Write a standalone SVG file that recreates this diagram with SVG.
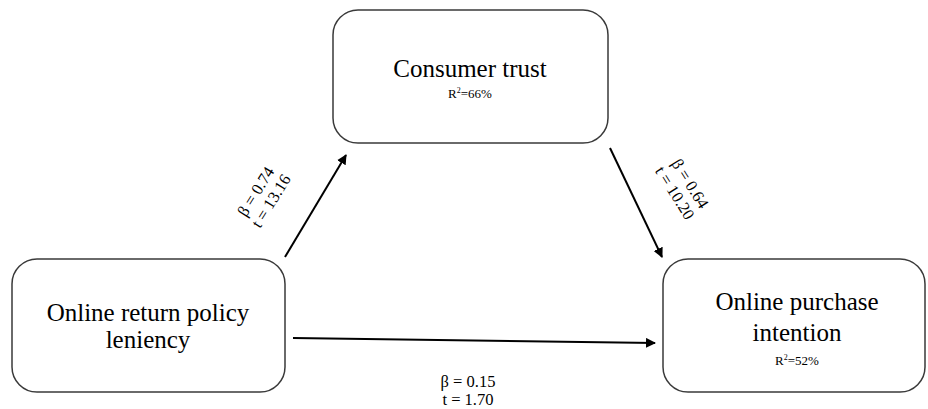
<svg xmlns="http://www.w3.org/2000/svg" width="928" height="409" viewBox="0 0 928 409">
<style>
.box{fill:#fff;stroke:#3a3a3a;stroke-width:1.5}
.t{font-family:'Liberation Serif','DejaVu Serif',serif;fill:#000;text-anchor:middle}
.big{font-size:25px}
.sm{font-size:13px}
.lab{font-size:16.5px}
.c{stroke:#000;stroke-width:2;fill:none;marker-end:url(#ah)}
</style>
<defs>
<marker id="ah" viewBox="0 0 10 10" refX="9" refY="5" markerWidth="5" markerHeight="5" orient="auto" markerUnits="strokeWidth">
<path d="M0,0 L10,5 L0,10 Z" fill="#000"/>
</marker>
</defs>
<rect width="928" height="409" fill="#fff"/>
<g id="connectors">
<line class="c" x1="285" y1="257" x2="346" y2="155"/>
<line class="c" x1="610" y1="148" x2="662" y2="257"/>
<line class="c" x1="293" y1="338" x2="655" y2="343"/>
</g>
<g font-family="Liberation Serif, serif">
<g id="node-trust">
<rect class="box" x="333" y="10" width="275" height="133" rx="25"/>
<text class="t big" x="470" y="77">Consumer trust</text>
<text class="t sm" x="470" y="98">R<tspan font-size="8" dy="-5">2</tspan><tspan dy="5">=66%</tspan></text>
</g>
<g id="node-policy">
<rect class="box" x="12" y="259" width="273" height="133" rx="25"/>
<text class="t big" x="148" y="321">Online return policy</text>
<text class="t big" x="148" y="348">leniency</text>
</g>
<g id="node-intention">
<rect class="box" x="663" y="259" width="262" height="133" rx="25"/>
<text class="t big" x="797" y="310">Online purchase</text>
<text class="t big" x="797" y="341">intention</text>
<text class="t sm" x="797" y="365">R<tspan font-size="8" dy="-5">2</tspan><tspan dy="5">=52%</tspan></text>
</g>
<g id="labels">
<g transform="translate(263,196) rotate(-58)">
<text class="t lab" x="0" y="-3">β = 0.74</text>
<text class="t lab" x="0" y="15">t = 13.16</text>
</g>
<g transform="translate(683,188) rotate(58)">
<text class="t lab" x="0" y="-3">β = 0.64</text>
<text class="t lab" x="0" y="15">t = 10.20</text>
</g>
<text class="t lab" x="468" y="387">β = 0.15</text>
<text class="t lab" x="468" y="405">t = 1.70</text>
</g>
</g>
</svg>
